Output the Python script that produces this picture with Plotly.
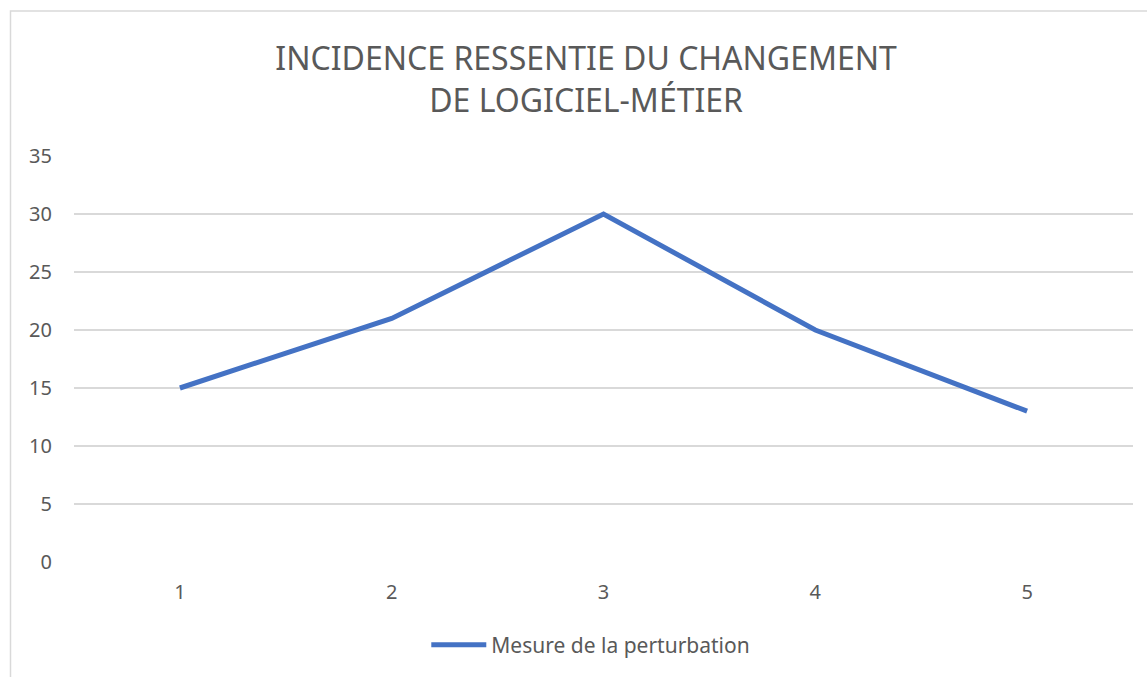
import plotly.graph_objects as go

categories = ["1", "2", "3", "4", "5"]
values = [15, 21, 30, 20, 13]
series_name = "Mesure de la perturbation"
title_lines = ["INCIDENCE RESSENTIE DU CHANGEMENT", "DE LOGICIEL-MÉTIER"]
y_ticks = [0, 5, 10, 15, 20, 25, 30, 35]

W, H = 1147, 677
L, R, T, B = 74, 14, 156, 115
pw, ph = W - L - R, H - T - B

fig = go.Figure()
fig.add_trace(go.Scatter(
    x=categories, y=values, mode="lines", name=series_name,
    line=dict(color="#4472C4", width=5),
))

fig.update_layout(
    width=W, height=H,
    margin=dict(l=L, r=R, t=T, b=B),
    paper_bgcolor="white", plot_bgcolor="white",
    font=dict(family="Noto Sans", color="#595959"),
    title=dict(
        text="<br>".join(title_lines),
        x=0.511, xanchor="center", y=1 - 70 / H, yanchor="middle",
        font=dict(size=32, color="#595959", family="Noto Sans"),
    ),
    xaxis=dict(
        type="category", range=[-0.5, 4.5],
        showgrid=False, zeroline=False, showline=False,
        ticks="", tickfont=dict(size=20, color="#595959"),
        ticklabelstandoff=16,
    ),
    yaxis=dict(
        range=[0, 35], tickvals=y_ticks,
        showgrid=True, gridcolor="#d9d9d9", gridwidth=1.5,
        zeroline=False, showline=False, ticks="",
        tickfont=dict(size=20, color="#595959"),
        ticklabelstandoff=21,
    ),
    showlegend=True,
    legend=dict(
        orientation="h", x=0.488, xanchor="center",
        y=-(645 - 562) / ph, yanchor="middle",
        font=dict(size=21, color="#595959"),
        itemwidth=55,
    ),
    shapes=[dict(
        type="rect", xref="paper", yref="paper",
        x0=(10.5 - L) / pw, x1=(W + 20 - L) / pw,
        y0=-(H + 20 - (H - B)) / ph, y1=(H - B - 11) / ph,
        line=dict(color="#d9d9d9", width=1.5), fillcolor="rgba(0,0,0,0)",
        layer="below",
    )],
)

fig.write_html(
    "out.html",
    config={"displayModeBar": False},
    post_script="document.body.style.margin='0';document.body.style.overflow='hidden';",
)
